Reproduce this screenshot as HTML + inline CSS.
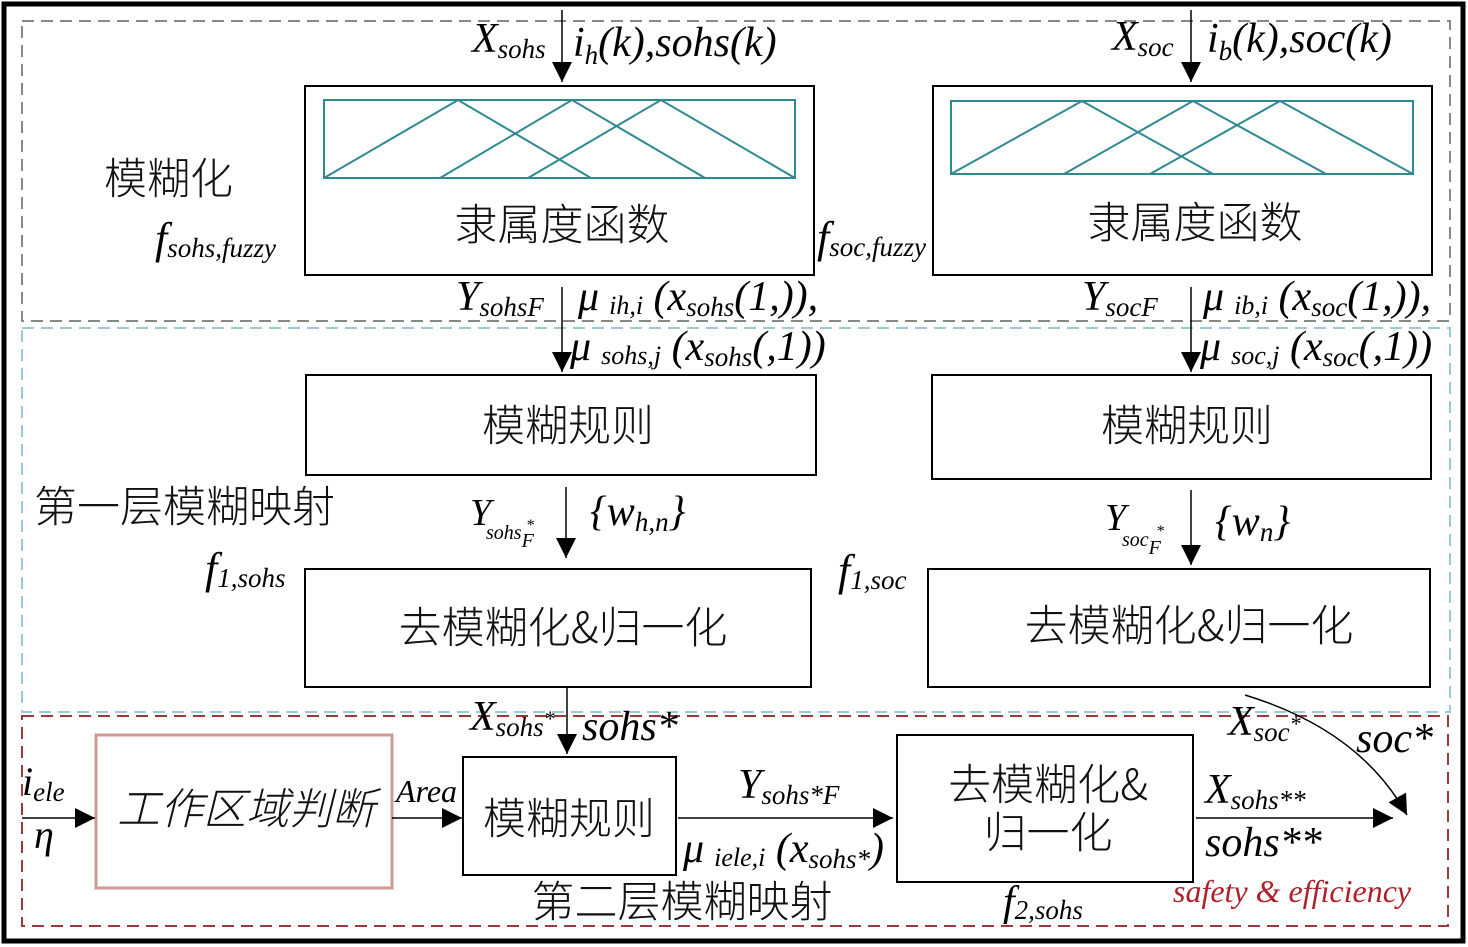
<!DOCTYPE html>
<html><head><meta charset="utf-8"><style>
html,body{margin:0;padding:0;background:#fff}
svg{display:block}
.m,.m text,.m tspan{font-family:"Liberation Serif","Times New Roman","DejaVu Serif",serif;font-style:italic;fill:#000}
.c,.c text{font-family:"Noto Sans CJK SC","WenQuanYi Zen Hei",sans-serif;font-weight:300;fill:#111}
</style></head><body>
<svg width="1468" height="947" viewBox="0 0 1468 947" xmlns="http://www.w3.org/2000/svg">
<defs>
<marker id="b" viewBox="0 0 10 10" markerWidth="26" markerHeight="20" refX="10" refY="5" orient="auto" markerUnits="userSpaceOnUse"><path d="M0,0 L10,5 L0,10 z" fill="#000"/></marker></defs>
<rect x="4" y="4" width="1459" height="937" fill="none" stroke="#000" stroke-width="5"/>
<rect x="22" y="21" width="1428" height="300" fill="none" stroke="#888" stroke-width="2" stroke-dasharray="12,7"/>
<rect x="22" y="328" width="1428" height="384" fill="none" stroke="#9cc9d6" stroke-width="2" stroke-dasharray="12,7"/>
<rect x="22" y="716" width="1426" height="210" fill="none" stroke="#9a3a3a" stroke-width="2" stroke-dasharray="12,7"/>

<g fill="none" stroke="#000" stroke-width="2">
<rect x="305" y="86" width="509" height="189"/>
<rect x="933" y="86" width="499" height="189"/>
<rect x="306" y="375" width="510" height="100"/>
<rect x="932" y="375" width="499" height="104"/>
<rect x="305" y="569" width="506" height="118"/>
<rect x="928" y="569" width="502" height="118"/>
<rect x="463" y="757" width="213" height="118"/>
<rect x="897" y="735" width="296" height="147"/>
</g>
<rect x="96" y="735" width="296" height="153" fill="none" stroke="#d09a92" stroke-width="3"/>
<g fill="none" stroke="#2e8a90" stroke-width="2">
<rect x="324" y="100" width="471" height="78"/>
<polyline points="324,178 458,100 591,178"/>
<polyline points="440,178 572,100 705,178"/>
<polyline points="528,178 661,100 795,178"/>
<rect x="951" y="101" width="462" height="73"/>
<polyline points="951,174 1082,101 1213,174"/>
<polyline points="1064,174 1193,101 1326,174"/>
<polyline points="1150,174 1280,101 1413,174"/>
</g>

<g stroke="#000" stroke-width="1.5" fill="none">
<line x1="562" y1="10" x2="562" y2="82" marker-end="url(#b)"/>
<line x1="1191" y1="10" x2="1191" y2="82" marker-end="url(#b)"/>
<line x1="562" y1="287" x2="562" y2="372" marker-end="url(#b)"/>
<line x1="1191" y1="287" x2="1191" y2="372" marker-end="url(#b)"/>
<line x1="566" y1="487" x2="566" y2="558" marker-end="url(#b)"/>
<line x1="1191" y1="490" x2="1191" y2="565" marker-end="url(#b)"/>
<line x1="567" y1="687" x2="567" y2="754" marker-end="url(#b)"/>
<line x1="22" y1="818" x2="95" y2="818" marker-end="url(#b)"/>
<line x1="392" y1="818" x2="462" y2="818" marker-end="url(#b)"/>
<line x1="678" y1="818" x2="893" y2="818" marker-end="url(#b)"/>
<line x1="1196" y1="818" x2="1393" y2="818" marker-end="url(#b)"/>
<path d="M1245,695 Q1360,730 1407,815" marker-end="url(#b)"/>
</g>

<g class="c" font-family="Noto Sans CJK SC, sans-serif">
<text x="562" y="240" font-size="43" text-anchor="middle">隶属度函数</text>
<text x="1195" y="238" font-size="43" text-anchor="middle">隶属度函数</text>
<text x="104" y="194" font-size="43">模糊化</text>
<text x="568" y="441" font-size="43" text-anchor="middle">模糊规则</text>
<text x="1187" y="441" font-size="43" text-anchor="middle">模糊规则</text>
<text x="34" y="522" font-size="43">第一层模糊映射</text>
<text x="563" y="643" font-size="43" text-anchor="middle">去模糊化&amp;归一化</text>
<text x="1189" y="641" font-size="43" text-anchor="middle">去模糊化&amp;归一化</text>
<text x="569" y="834" font-size="43" text-anchor="middle">模糊规则</text>
<text x="1048" y="800" font-size="43" text-anchor="middle">去模糊化&amp;</text>
<text x="1048" y="848" font-size="43" text-anchor="middle">归一化</text>
<text x="682" y="917" font-size="43" text-anchor="middle">第二层模糊映射</text>
<text x="246" y="824" font-size="43" text-anchor="middle" font-style="italic">工作区域判断</text>
</g>

<g class="m" font-family="Liberation Serif, serif" font-style="italic">
<text x="472" y="52" font-size="42">X<tspan font-size="27" dy="6">sohs</tspan></text>
<text x="573" y="56" font-size="42">i<tspan font-size="27" dy="8">h</tspan><tspan dy="-8">(k),sohs(k)</tspan></text>
<text x="1112" y="50" font-size="42">X<tspan font-size="27" dy="6">soc</tspan></text>
<text x="1207" y="52" font-size="42">i<tspan font-size="27" dy="8">b</tspan><tspan dy="-8">(k),soc(k)</tspan></text>
<text x="155" y="253" font-size="44">f<tspan font-size="27" dy="4">sohs,fuzzy</tspan></text>
<text x="817" y="252" font-size="44">f<tspan font-size="27" dy="4">soc,fuzzy</tspan></text>
<text x="456" y="310" font-size="42">Y<tspan font-size="27" dy="6">sohsF</tspan></text>
<text x="578" y="310" font-size="42">μ<tspan font-size="26" dx="10" dy="4">ih,i</tspan><tspan dy="-4"> (x</tspan><tspan font-size="27" dy="6">sohs</tspan><tspan dy="-6" font-style="normal">(1,)),</tspan></text>
<text x="570" y="360" font-size="42">μ<tspan font-size="26" dx="10" dy="4">sohs,j</tspan><tspan dy="-4"> (x</tspan><tspan font-size="27" dy="6">sohs</tspan><tspan dy="-6" font-style="normal">(,1))</tspan></text>
<text x="1082" y="310" font-size="42">Y<tspan font-size="27" dy="6">socF</tspan></text>
<text x="1203" y="310" font-size="42">μ<tspan font-size="26" dx="10" dy="4">ib,i</tspan><tspan dy="-4"> (x</tspan><tspan font-size="27" dy="6">soc</tspan><tspan dy="-6" font-style="normal">(1,)),</tspan></text>
<text x="1200" y="360" font-size="42">μ<tspan font-size="26" dx="10" dy="4">soc,j</tspan><tspan dy="-4"> (x</tspan><tspan font-size="27" dy="6">soc</tspan><tspan dy="-6" font-style="normal">(,1))</tspan></text>
<text x="470" y="525" font-size="38">Y</text><text x="486" y="539" font-size="20">sohs<tspan dy="8">F</tspan></text><text x="526" y="530" font-size="16">*</text>
<text x="590" y="525" font-size="42">{w<tspan font-size="27" dy="6">h,n</tspan><tspan dy="-6">}</tspan></text>
<text x="1105" y="530" font-size="38">Y</text><text x="1122" y="546" font-size="20">soc<tspan dy="8">F</tspan></text><text x="1156" y="536" font-size="16">*</text>
<text x="1215" y="535" font-size="42">{w<tspan font-size="27" dy="6">n</tspan><tspan dy="-6">}</tspan></text>
<text x="205" y="583" font-size="44">f<tspan font-size="27" dy="4">1,sohs</tspan></text>
<text x="838" y="585" font-size="44">f<tspan font-size="27" dy="4">1,soc</tspan></text>
<text x="470" y="730" font-size="42">X<tspan font-size="27" dy="6">sohs</tspan><tspan font-size="22" dy="-10">*</tspan></text>
<text x="582" y="740" font-size="42">sohs*</text>
<text x="1228" y="735" font-size="42">X<tspan font-size="27" dy="6">soc</tspan><tspan font-size="22" dy="-10">*</tspan></text>
<text x="1356" y="752" font-size="42">soc*</text>
<text x="22" y="795" font-size="40">i<tspan font-size="27" dy="6">ele</tspan></text>
<text x="34" y="848" font-size="40">η</text>
<text x="396" y="802" font-size="32">Area</text>
<text x="738" y="798" font-size="42">Y<tspan font-size="27" dy="6">sohs*F</tspan></text>
<text x="683" y="862" font-size="42">μ<tspan font-size="26" dx="10" dy="4">iele,i</tspan><tspan dy="-4"> (x</tspan><tspan font-size="27" dy="6">sohs*</tspan><tspan dy="-6">)</tspan></text>
<text x="1205" y="803" font-size="42">X<tspan font-size="27" dy="6">sohs**</tspan></text>
<text x="1205" y="856" font-size="42">sohs**</text>
<text x="1003" y="915" font-size="42">f<tspan font-size="27" dy="4">2,sohs</tspan></text>
<text x="1173" y="902" font-size="32" style="fill:#b0202a">safety &amp; efficiency</text>
</g>
</svg>
</body></html>
